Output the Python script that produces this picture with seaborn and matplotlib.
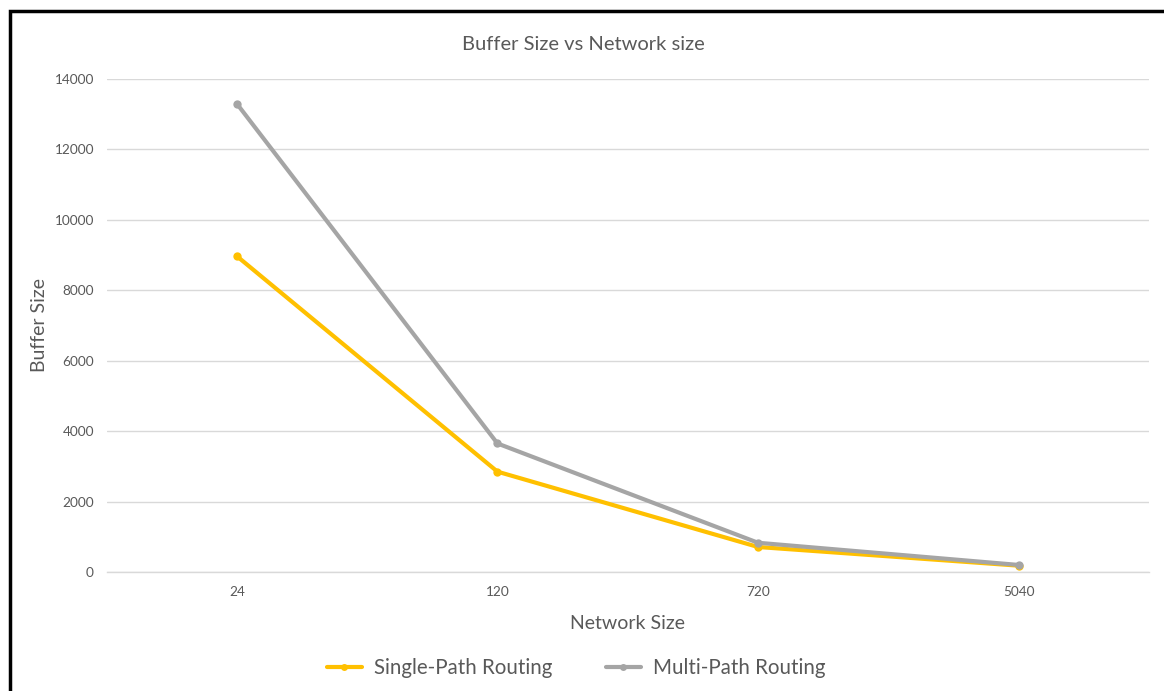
import matplotlib
matplotlib.use("Agg")
import matplotlib.pyplot as plt
from matplotlib.patches import Rectangle
from matplotlib.lines import Line2D
import seaborn as sns
import pandas as pd

network_sizes = ["24", "120", "720", "5040"]
single_path = [8970, 2850, 710, 180]
multi_path = [13300, 3650, 830, 200]
series_names = ["Single-Path Routing", "Multi-Path Routing"]
y_ticks = [0, 2000, 4000, 6000, 8000, 10000, 12000, 14000]

sns.set_theme(style="white")
plt.rcParams["font.family"] = ["Lato", "DejaVu Sans"]

df = pd.DataFrame({
    "Network Size": network_sizes * 2,
    "Buffer Size": single_path + multi_path,
    "Routing": [series_names[0]] * len(network_sizes) + [series_names[1]] * len(network_sizes),
})

fig = plt.figure(figsize=(11.64, 6.91), dpi=100)
ax = fig.add_axes([106.5 / 1164, 1 - 572 / 691, (1149 - 106.5) / 1164, (572 - 79) / 691])

palette = {series_names[0]: "#FFC000", series_names[1]: "#A5A5A5"}
sns.lineplot(data=df, x="Network Size", y="Buffer Size", hue="Routing",
             palette=palette, marker="o", markersize=6, markeredgewidth=0,
             linewidth=3, sort=False, ax=ax, legend=False)

ax.set_xlim(-0.5, len(network_sizes) - 0.5)
ax.set_ylim(0, 14000)
ax.set_yticks(y_ticks)
ax.set_yticklabels([str(v) for v in y_ticks])
ax.grid(axis="y", color="#D9D9D9", linewidth=1)
ax.grid(axis="x", visible=False)
ax.set_axisbelow(True)
for side in ["top", "right", "left"]:
    ax.spines[side].set_visible(False)
ax.spines["bottom"].set_color("#D9D9D9")
ax.spines["bottom"].set_linewidth(1)
ax.tick_params(axis="both", length=0, labelsize=9.8, labelcolor="#595959")
ax.tick_params(axis="y", pad=9)
ax.tick_params(axis="x", pad=10)

ax.set_xlabel("Network Size", fontsize=14, color="#595959", labelpad=12)
ax.set_ylabel("Buffer Size", fontsize=14, color="#595959", labelpad=5)
fig.text(583 / 1164, 1 - 45 / 691, "Buffer Size vs Network size",
         ha="center", va="center", fontsize=14.5, color="#595959")

# legend below the plot
handles = [Line2D([0], [0], color=palette[n], linewidth=3, marker="o",
                  markersize=5, markeredgewidth=0) for n in series_names]
fig.legend(handles, series_names, loc="center", bbox_to_anchor=(576 / 1164, 1 - 668 / 691),
           ncol=2, frameon=False, fontsize=14.8, labelcolor="#595959",
           handlelength=1.7, handletextpad=0.6, columnspacing=2.6)

# outer frame
fig.patches.append(Rectangle((10 / 1164, -0.05), 1.2, 1 - 11 / 691 + 0.05,
                             transform=fig.transFigure, fill=False,
                             edgecolor="black", linewidth=2.5))

fig.savefig("out.png", dpi=100)
